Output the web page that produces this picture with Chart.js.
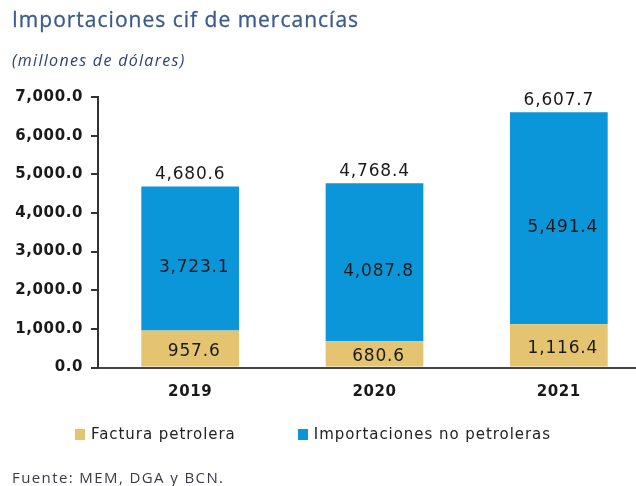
<!DOCTYPE html>
<html><head><meta charset="utf-8">
<script src="https://cdn.jsdelivr.net/npm/chart.js@4/dist/chart.umd.min.js"></script>
<style>
html,body{margin:0;padding:0;background:#fff;overflow:hidden;width:636px;height:486px;position:relative;}
#cv{position:absolute;left:0;top:0;}
.txt{position:absolute;white-space:nowrap;}
#title{left:12px;top:5px;font-family:"Open Sans";font-size:21px;color:#3B5A8C;letter-spacing:1px;-webkit-text-stroke:0.3px #3B5A8C;}
#sub{left:12px;top:49px;font-family:"Open Sans";font-size:16px;font-style:italic;color:#2B3F78;letter-spacing:1.3px;}
#legend{left:75px;top:424px;font-family:"DejaVu Sans";font-size:15px;color:#222;}
#legend .item{display:inline-block;vertical-align:middle;}
#legend .box{display:inline-block;width:10px;height:11px;margin-right:6px;vertical-align:-1px;}
#legend .lt{letter-spacing:0.95px;}
#foot{left:12px;top:467px;font-family:"Open Sans";font-size:15px;color:#3a3a4a;letter-spacing:1.4px;}
</style>
</head><body>
<canvas id="cv" width="652" height="486"></canvas>
<div id="title" class="txt">Importaciones cif de mercancías</div>
<div id="sub" class="txt">(millones de dólares)</div>
<div id="legend" class="txt"></div>
<div id="foot" class="txt">Fuente: MEM, DGA y BCN.</div>
<script>
const categories = ['2019', '2020', '2021'];
const seriesNames = ['Factura petrolera', 'Importaciones no petroleras'];
const facturaPetrolera = [957.6, 680.6, 1116.4];
const importacionesNoPetroleras = [3723.1, 4087.8, 5491.4];
const totales = [4680.6, 4768.4, 6607.7];
const yTicks = [0, 1000, 2000, 3000, 4000, 5000, 6000, 7000];
const colors = ['#E4C470', '#0A96D8'];

const fmt = v => Number(v).toLocaleString('en-US', {minimumFractionDigits: 1, maximumFractionDigits: 1});

const spacingPlugin = {
  id: 'spacing',
  beforeLayout(chart) { chart.ctx.letterSpacing = '0.6px'; },
  beforeDraw(chart) { chart.ctx.letterSpacing = '0.6px'; }
};

const labelPlugin = {
  id: 'barLabels',
  afterDatasetsDraw(chart) {
    const ctx = chart.ctx;
    ctx.save();
    ctx.font = '17px "DejaVu Sans"';
    ctx.letterSpacing = '0.8px';
    ctx.fillStyle = '#1a1a1a';
    ctx.textAlign = 'center';
    ctx.textBaseline = 'middle';
    chart.data.datasets.forEach((ds, di) => {
      const meta = chart.getDatasetMeta(di);
      meta.data.forEach((bar, i) => {
        const y = (bar.y + bar.base) / 2 + (di === 0 ? 3 : 9);
        ctx.fillText(fmt(ds.data[i]), bar.x + 4, y);
      });
    });
    const topMeta = chart.getDatasetMeta(chart.data.datasets.length - 1);
    topMeta.data.forEach((bar, i) => {
      ctx.fillText(fmt(totales[i]), bar.x, bar.y - 12);
    });
    ctx.restore();
  }
};

const chart = new Chart(document.getElementById('cv'), {
  type: 'bar',
  data: {
    labels: categories,
    datasets: [
      {label: seriesNames[0], data: facturaPetrolera, backgroundColor: colors[0], barPercentage: 0.53, categoryPercentage: 1},
      {label: seriesNames[1], data: importacionesNoPetroleras, backgroundColor: colors[1], barPercentage: 0.53, categoryPercentage: 1}
    ]
  },
  options: {
    responsive: false,
    animation: false,
    devicePixelRatio: 1,
    layout: {padding: {top: 97, bottom: 78.5, left: 0, right: 1}},
    plugins: {legend: {display: false}, tooltip: {enabled: false}, title: {display: false}},
    scales: {
      x: {
        stacked: true,
        border: {display: true, color: '#444', width: 2},
        grid: {drawOnChartArea: false, drawTicks: false},
        afterFit(s) { s.height = 40; },
        ticks: {padding: 16, color: '#1a1a1a', font: {family: 'DejaVu Sans', size: 15, weight: 'bold'}}
      },
      y: {
        stacked: true,
        min: 0, max: 7000,
        afterBuildTicks(s) { s.ticks = yTicks.map(v => ({value: v})); },
        afterFit(s) { s.width = 98; },
        border: {display: true, color: '#333', width: 2},
        grid: {drawOnChartArea: false, drawTicks: true, tickLength: 7, color: '#333', lineWidth: 2},
        ticks: {padding: 8, color: '#1a1a1a', font: {family: 'DejaVu Sans', size: 15, weight: 'bold'}, callback: v => fmt(v)}
      }
    }
  },
  plugins: [spacingPlugin, labelPlugin]
});

const leg = document.getElementById('legend');
seriesNames.forEach((n, i) => {
  const it = document.createElement('span');
  it.className = 'item';
  if (i > 0) it.style.marginLeft = '62px';
  it.innerHTML = '<span class="box" style="background:' + colors[i] + '"></span><span class="lt">' + n + '</span>';
  leg.appendChild(it);
});
</script>
</body></html>
